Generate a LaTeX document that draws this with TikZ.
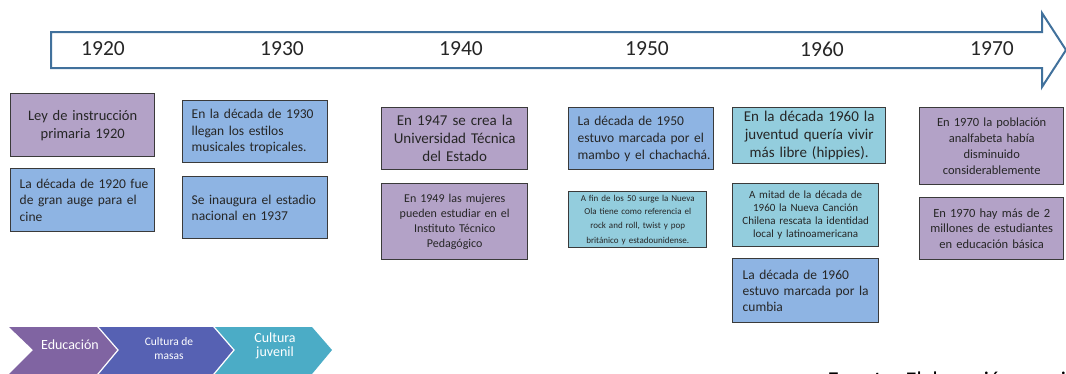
\documentclass[tikz,border=0pt]{standalone}
\usepackage{fontspec}
\setmainfont{Carlito}
\newcommand\myfs[2]{\fontsize{#1}{#2}\selectfont}
\definecolor{arrowline}{HTML}{41719C}
\definecolor{boxline}{HTML}{3A3A3A}
\definecolor{textc}{HTML}{262626}
\definecolor{purplefill}{HTML}{B3A2C7}
\definecolor{bluefill}{HTML}{8EB4E3}
\definecolor{cyanfill}{HTML}{93CDDD}
\definecolor{edufill}{HTML}{8064A2}
\definecolor{masfill}{HTML}{5661B3}
\definecolor{juvfill}{HTML}{4BACC6}
\tikzset{
  box/.style={draw=boxline, line width=1.4pt, inner sep=0pt, text=textc, anchor=north west},
  pbox/.style={box, fill=purplefill, align=center},
  bbox/.style={box, fill=bluefill, align=left},
  cbox/.style={box, fill=cyanfill, align=center},
  year/.style={font=\myfs{21.5}{23}, text=textc, inner sep=0pt},
  legtext/.style={text=white, align=center, inner sep=0pt}
}
\begin{document}
\begin{tikzpicture}[x=1pt,y=-1pt]
\useasboundingbox (0,0) rectangle (1066,373);
% timeline arrow
\draw[arrowline, line width=2pt, fill=white, line join=miter]
  (51,32) -- (1042,32) -- (1042,13) -- (1066,50) -- (1042,87) -- (1042,68) -- (51,68) -- cycle;
\node[year] (y1920) at (103,49) {1920};
\node[year] (y1930) at (282,49) {1930};
\node[year] (y1940) at (461,49) {1940};
\node[year] (y1950) at (647,49) {1950};
\node[year] (y1960) at (822,49) {1960};
\node[year] (y1970) at (992,49) {1970};
% 1920
\node[pbox, minimum width=144pt, minimum height=63pt, text width=130pt, font=\myfs{14.5}{18}] (b1) at (10,93) {Ley de instrucción\\primaria 1920};
\node[bbox, minimum width=144pt, minimum height=63pt, text width=126pt, font=\myfs{13.5}{16.5}] (b2) at (10,168) {\mbox{La década de 1920 fue}\\\mbox{de gran auge para el}\\cine};
% 1930
\node[bbox, minimum width=145pt, minimum height=62pt, text width=127pt, font=\myfs{13.5}{16.5}] (b3) at (182,100) {\mbox{En la década de 1930}\\\mbox{llegan los estilos}\\\mbox{musicales tropicales.}};
\node[bbox, minimum width=145pt, minimum height=62pt, text width=127pt, font=\myfs{13.5}{16.5}] (b4) at (182,176) {\mbox{Se inaugura el estadio}\\\mbox{nacional en 1937}};
% 1940
\node[pbox, minimum width=146pt, minimum height=62pt, text width=136pt, font=\myfs{15}{18}] (b5) at (381,107) {En 1947 se crea la\\Universidad Técnica\\del Estado};
\node[pbox, minimum width=146pt, minimum height=76pt, text width=136pt, font=\myfs{12}{15}] (b6) at (381,183) {En 1949 las mujeres\\pueden estudiar en el\\Instituto Técnico\\Pedagógico};
% 1950
\node[bbox, minimum width=145pt, minimum height=62pt, text width=127pt, font=\myfs{13.5}{17}] (b7) at (568,107) {\mbox{La década de 1950}\\\mbox{estuvo marcada por el}\\\mbox{mambo y el chachachá.}};
\node[cbox, minimum width=138pt, minimum height=56pt, text width=130pt, font=\myfs{9}{13.5}] (b8) at (568,191) {A fin de los 50 surge la Nueva\\Ola tiene como referencia el\\rock and roll, twist y pop\\[1.5pt]británico y estadounidense.};
% 1960
\node[cbox, minimum width=153pt, minimum height=56pt, text width=145pt, font=\myfs{15}{18}] (b9) at (732,107) {En la década 1960 la\\juventud quería vivir\\más libre (hippies).};
\node[cbox, minimum width=146pt, minimum height=63pt, text width=138pt, font=\myfs{11}{13}] (b10) at (732,183) {A mitad de la década de\\1960 la Nueva Canción\\Chilena rescata la identidad\\local y latinoamericana};
\node[bbox, minimum width=146pt, minimum height=64pt, text width=126pt, font=\myfs{13.5}{16}] (b11) at (732,258) {\mbox{La década de 1960}\\\mbox{estuvo marcada por la}\\cumbia};
% 1970
\node[pbox, minimum width=144pt, minimum height=77pt, text width=136pt, font=\myfs{12.5}{15.7}] (b12) at (919,107) {En 1970 la población\\analfabeta había\\disminuido\\considerablemente};
\node[pbox, minimum width=144pt, minimum height=62pt, text width=136pt, font=\myfs{12.5}{15.5}] (b13) at (919,197) {En 1970 hay más de 2\\millones de estudiantes\\en educación básica};
% legend chevrons
\fill[edufill] (9,327) -- (97,327) -- (117,350) -- (97,374) -- (9,374) -- (33,350) -- cycle;
\fill[masfill] (99,327) -- (213,327) -- (233,350) -- (213,374) -- (99,374) -- (119,350) -- cycle;
\fill[juvfill] (215,327) -- (312,327) -- (332,350) -- (312,374) -- (215,374) -- (235,350) -- cycle;
\node[legtext, font=\myfs{14}{16}] (leg1) at (70,345) {Educación};
\node[legtext, font=\myfs{11.5}{14}] (leg2) at (169,349) {Cultura de\\masas};
\node[legtext, font=\myfs{14}{14.5}] (leg3) at (275,346) {Cultura\\juvenil};
% source note (cut off at the bottom, as in the reference)
\node[anchor=base west, inner sep=0pt, font=\myfs{22.5}{24}, text=black] (src) at (828,387.5) {\textbf{Fuente:} Elaboración propia};
\end{tikzpicture}
\end{document}
